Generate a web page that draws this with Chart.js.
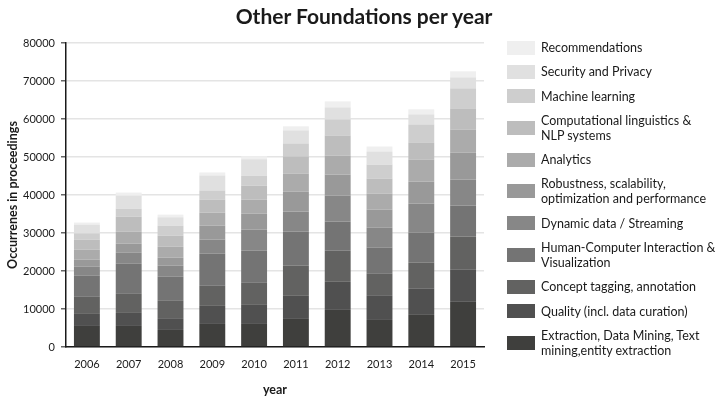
<!DOCTYPE html>
<html>
<head>
<meta charset="utf-8">
<title>Other Foundations per year</title>
<script src="https://cdn.jsdelivr.net/npm/chart.js@4.4.1/dist/chart.umd.min.js"></script>
<style>
  html, body { margin: 0; padding: 0; background: #fff; }
  #wrap { position: relative; width: 715px; height: 398px; font-family: Lato, sans-serif; color: #1a1a1a; }
  #chart { position: absolute; left: 0; top: 0; }
  #title { position: absolute; left: 364px; top: 3px; transform: translateX(-50%); margin: 0;
           font-size: 21px; font-weight: bold; white-space: nowrap; }
  #legend { position: absolute; left: 507px; top: 40px; height: 318px; margin: 0; padding: 0; list-style: none;
            display: flex; flex-direction: column; justify-content: space-between; }
  #legend li { display: flex; align-items: center; font-size: 12.5px; line-height: 15px; white-space: nowrap; }
  #legend .box { width: 28px; height: 14px; margin-right: 6px; flex: none; }
</style>
</head>
<body>
<div id="wrap">
  <canvas id="chart" width="715" height="398"></canvas>
  <h1 id="title">Other Foundations per year</h1>
  <ul id="legend"></ul>
</div>
<script>
const years = ['2006', '2007', '2008', '2009', '2010', '2011', '2012', '2013', '2014', '2015']

// stacked bottom to top
const extraction      = [5540, 5540, 4490, 6070, 6070, 7390, 9760, 7120, 8450, 11870]
const quality         = [3170, 3430, 2900, 4750, 5010, 6070, 7390, 6330, 6860, 8440]
const conceptTagging  = [4490, 5010, 4750, 5280, 5800, 7920, 8180, 5800, 6860, 8710]
const hci             = [5540, 7920, 6340, 8450, 8450, 8970, 7650, 6860, 7920, 8180]
const dynamicData     = [2380, 2900, 2900, 3700, 5540, 5280, 6860, 5280, 7650, 6860]
const robustness      = [1850, 2380, 2110, 3700, 4220, 5280, 5540, 4750, 5800, 7120]
const analytics       = [2640, 3170, 2900, 3430, 3690, 4750, 5010, 4220, 5800, 6070]
const compLinguistics = [2640, 3960, 2900, 3430, 3690, 4490, 5280, 3960, 4490, 5540]
const machineLearning = [1670, 2110, 2640, 2370, 2640, 3430, 4220, 3690, 4750, 5280]
const security        = [2290, 3430, 2200, 3960, 4300, 3430, 3170, 3430, 2640, 2900]
const recommendations = [530, 790, 700, 790, 790, 1060, 1580, 1320, 1320, 1580]

const series = [
  { label: ['Extraction, Data Mining, Text', 'mining,entity extraction'], data: extraction, color: '#3f3f3d' },
  { label: ['Quality (incl. data curation)'], data: quality, color: '#505050' },
  { label: ['Concept tagging, annotation'], data: conceptTagging, color: '#626261' },
  { label: ['Human-Computer Interaction &', 'Visualization'], data: hci, color: '#747474' },
  { label: ['Dynamic data / Streaming'], data: dynamicData, color: '#878787' },
  { label: ['Robustness, scalability,', 'optimization and performance'], data: robustness, color: '#999999' },
  { label: ['Analytics'], data: analytics, color: '#ababab' },
  { label: ['Computational linguistics &', 'NLP systems'], data: compLinguistics, color: '#bdbdbd' },
  { label: ['Machine learning'], data: machineLearning, color: '#cecece' },
  { label: ['Security and Privacy'], data: security, color: '#e0e0e0' },
  { label: ['Recommendations'], data: recommendations, color: '#efefef' }
]

const tickFont = { family: 'Lato', size: 11 }
const axisTitleFont = { family: 'Lato', size: 12.5, weight: 'bold' }

new Chart(document.getElementById('chart').getContext('2d'), {
  type: 'bar',
  data: {
    labels: years,
    datasets: series.map(s => ({
      label: s.label.join(' '),
      data: s.data,
      backgroundColor: s.color,
      borderWidth: 0,
      barPercentage: 0.62,
      categoryPercentage: 1
    }))
  },
  options: {
    responsive: false,
    animation: false,
    layout: { padding: { top: 43, right: 231, bottom: 0, left: 0 } },
    plugins: {
      legend: { display: false },
      tooltip: { enabled: false }
    },
    scales: {
      x: {
        stacked: true,
        grid: { display: false, drawTicks: false },
        border: { display: true, color: '#1a1a1a', width: 1.5 },
        ticks: { font: tickFont, color: '#1a1a1a', padding: 11 },
        title: { display: true, text: 'year', font: axisTitleFont, color: '#1a1a1a', padding: { top: 0, bottom: 1 } },
        afterFit: scale => { scale.height = 51 }
      },
      y: {
        stacked: true,
        min: 0,
        max: 80000,
        grid: { color: '#e4e4e4', lineWidth: 1.5, tickColor: '#666', tickLength: 5 },
        border: { display: true, color: '#1a1a1a', width: 1.5 },
        ticks: { stepSize: 10000, font: tickFont, color: '#1a1a1a', padding: 6, callback: v => String(v) },
        title: { display: true, text: 'Occurrenes in proceedings', font: axisTitleFont, color: '#1a1a1a', padding: { top: 5, bottom: 0 } },
        afterFit: scale => { scale.width = 66 }
      }
    }
  }
})

// legend, top entry is the top of the stack
const legend = document.getElementById('legend')
series.slice().reverse().forEach(s => {
  const li = document.createElement('li')
  const box = document.createElement('span')
  box.className = 'box'
  box.style.background = s.color
  const text = document.createElement('span')
  text.innerHTML = s.label.join('<br>')
  li.appendChild(box)
  li.appendChild(text)
  legend.appendChild(li)
})
</script>
</body>
</html>
